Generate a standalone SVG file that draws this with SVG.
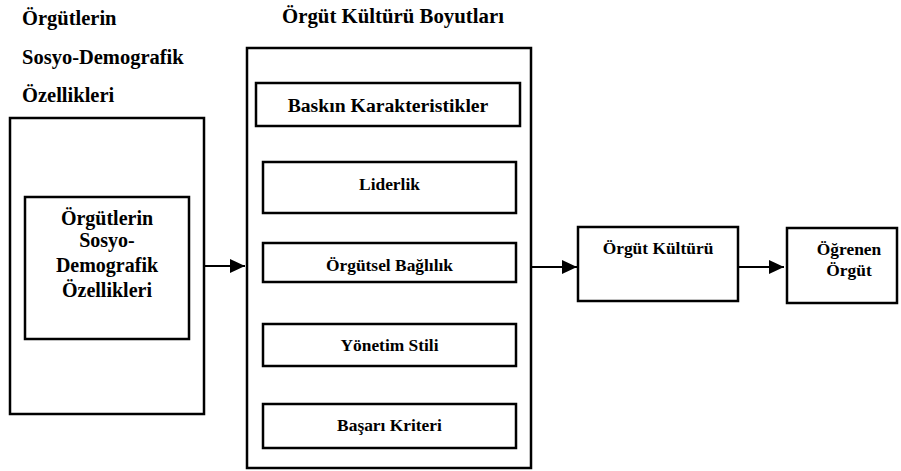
<svg xmlns="http://www.w3.org/2000/svg" width="901" height="471" viewBox="0 0 901 471">
<defs>
<marker id="ah" viewBox="0 0 15 14" refX="15" refY="7" markerWidth="15" markerHeight="14" markerUnits="userSpaceOnUse" orient="auto">
<path d="M0,0 L15,7 L0,14 z" fill="#000"/>
</marker>
</defs>
<rect width="901" height="471" fill="#fff"/>
<g id="title-left">
<text x="22" y="25" font-family="'Liberation Serif', serif" font-weight="bold" font-size="20.5">Örgütlerin</text>
<text x="22" y="64" font-family="'Liberation Serif', serif" font-weight="bold" font-size="20.5">Sosyo-Demografik</text>
<text x="22" y="102" font-family="'Liberation Serif', serif" font-weight="bold" font-size="20.5">Özellikleri</text>
</g>
<g id="title-mid">
<text x="393" y="23" font-family="'Liberation Serif', serif" font-weight="bold" font-size="20.8" text-anchor="middle">Örgüt Kültürü Boyutları</text>
</g>
<g id="left-outer">
<rect x="10" y="118" width="194" height="296" fill="#fff" stroke="#000" stroke-width="2.5"/>
</g>
<g id="left-inner">
<rect x="25" y="197" width="164" height="142" fill="#fff" stroke="#000" stroke-width="2.5"/>
<text x="107" y="225" font-family="'Liberation Serif', serif" font-weight="bold" font-size="20" text-anchor="middle">Örgütlerin</text>
<text x="107" y="247" font-family="'Liberation Serif', serif" font-weight="bold" font-size="20" text-anchor="middle">Sosyo-</text>
<text x="107" y="272" font-family="'Liberation Serif', serif" font-weight="bold" font-size="20" text-anchor="middle">Demografik</text>
<text x="107" y="297" font-family="'Liberation Serif', serif" font-weight="bold" font-size="20" text-anchor="middle">Özellikleri</text>
</g>
<g id="mid-outer">
<rect x="247" y="48" width="284" height="420" fill="#fff" stroke="#000" stroke-width="2.5"/>
</g>
<g id="baskin">
<rect x="256" y="83" width="264" height="43" fill="#fff" stroke="#000" stroke-width="2.5"/>
<text x="388" y="112" font-family="'Liberation Serif', serif" font-weight="bold" font-size="19.7" text-anchor="middle">Baskın Karakteristikler</text>
</g>
<g id="liderlik">
<rect x="263" y="162" width="253" height="51" fill="#fff" stroke="#000" stroke-width="2.5"/>
<text x="389.5" y="190" font-family="'Liberation Serif', serif" font-weight="bold" font-size="17.4" text-anchor="middle">Liderlik</text>
</g>
<g id="baglilik">
<rect x="263" y="243" width="253" height="39" fill="#fff" stroke="#000" stroke-width="2.5"/>
<text x="389.5" y="271" font-family="'Liberation Serif', serif" font-weight="bold" font-size="17.4" text-anchor="middle">Örgütsel Bağlılık</text>
</g>
<g id="yonetim">
<rect x="263" y="324" width="253" height="42" fill="#fff" stroke="#000" stroke-width="2.5"/>
<text x="389.5" y="351" font-family="'Liberation Serif', serif" font-weight="bold" font-size="17.4" text-anchor="middle">Yönetim Stili</text>
</g>
<g id="basari">
<rect x="263" y="404" width="253" height="44" fill="#fff" stroke="#000" stroke-width="2.5"/>
<text x="389.5" y="431" font-family="'Liberation Serif', serif" font-weight="bold" font-size="17.4" text-anchor="middle">Başarı Kriteri</text>
</g>
<g id="kultur">
<rect x="578" y="227" width="160" height="74" fill="#fff" stroke="#000" stroke-width="2.5"/>
<text x="658" y="254" font-family="'Liberation Serif', serif" font-weight="bold" font-size="17.4" text-anchor="middle">Örgüt Kültürü</text>
</g>
<g id="ogrenen">
<rect x="787" y="228" width="110" height="75" fill="#fff" stroke="#000" stroke-width="2.5"/>
<text x="849" y="255" font-family="'Liberation Serif', serif" font-weight="bold" font-size="17.4" text-anchor="middle">Öğrenen</text>
<text x="849" y="276" font-family="'Liberation Serif', serif" font-weight="bold" font-size="17.4" text-anchor="middle">Örgüt</text>
</g>
<g id="connectors" stroke="#000" stroke-width="2.2" fill="none">
<line x1="204" y1="266" x2="245" y2="266" marker-end="url(#ah)"/>
<line x1="531" y1="267" x2="577" y2="267" marker-end="url(#ah)"/>
<line x1="738" y1="267" x2="784" y2="267" marker-end="url(#ah)"/>
</g>
</svg>
